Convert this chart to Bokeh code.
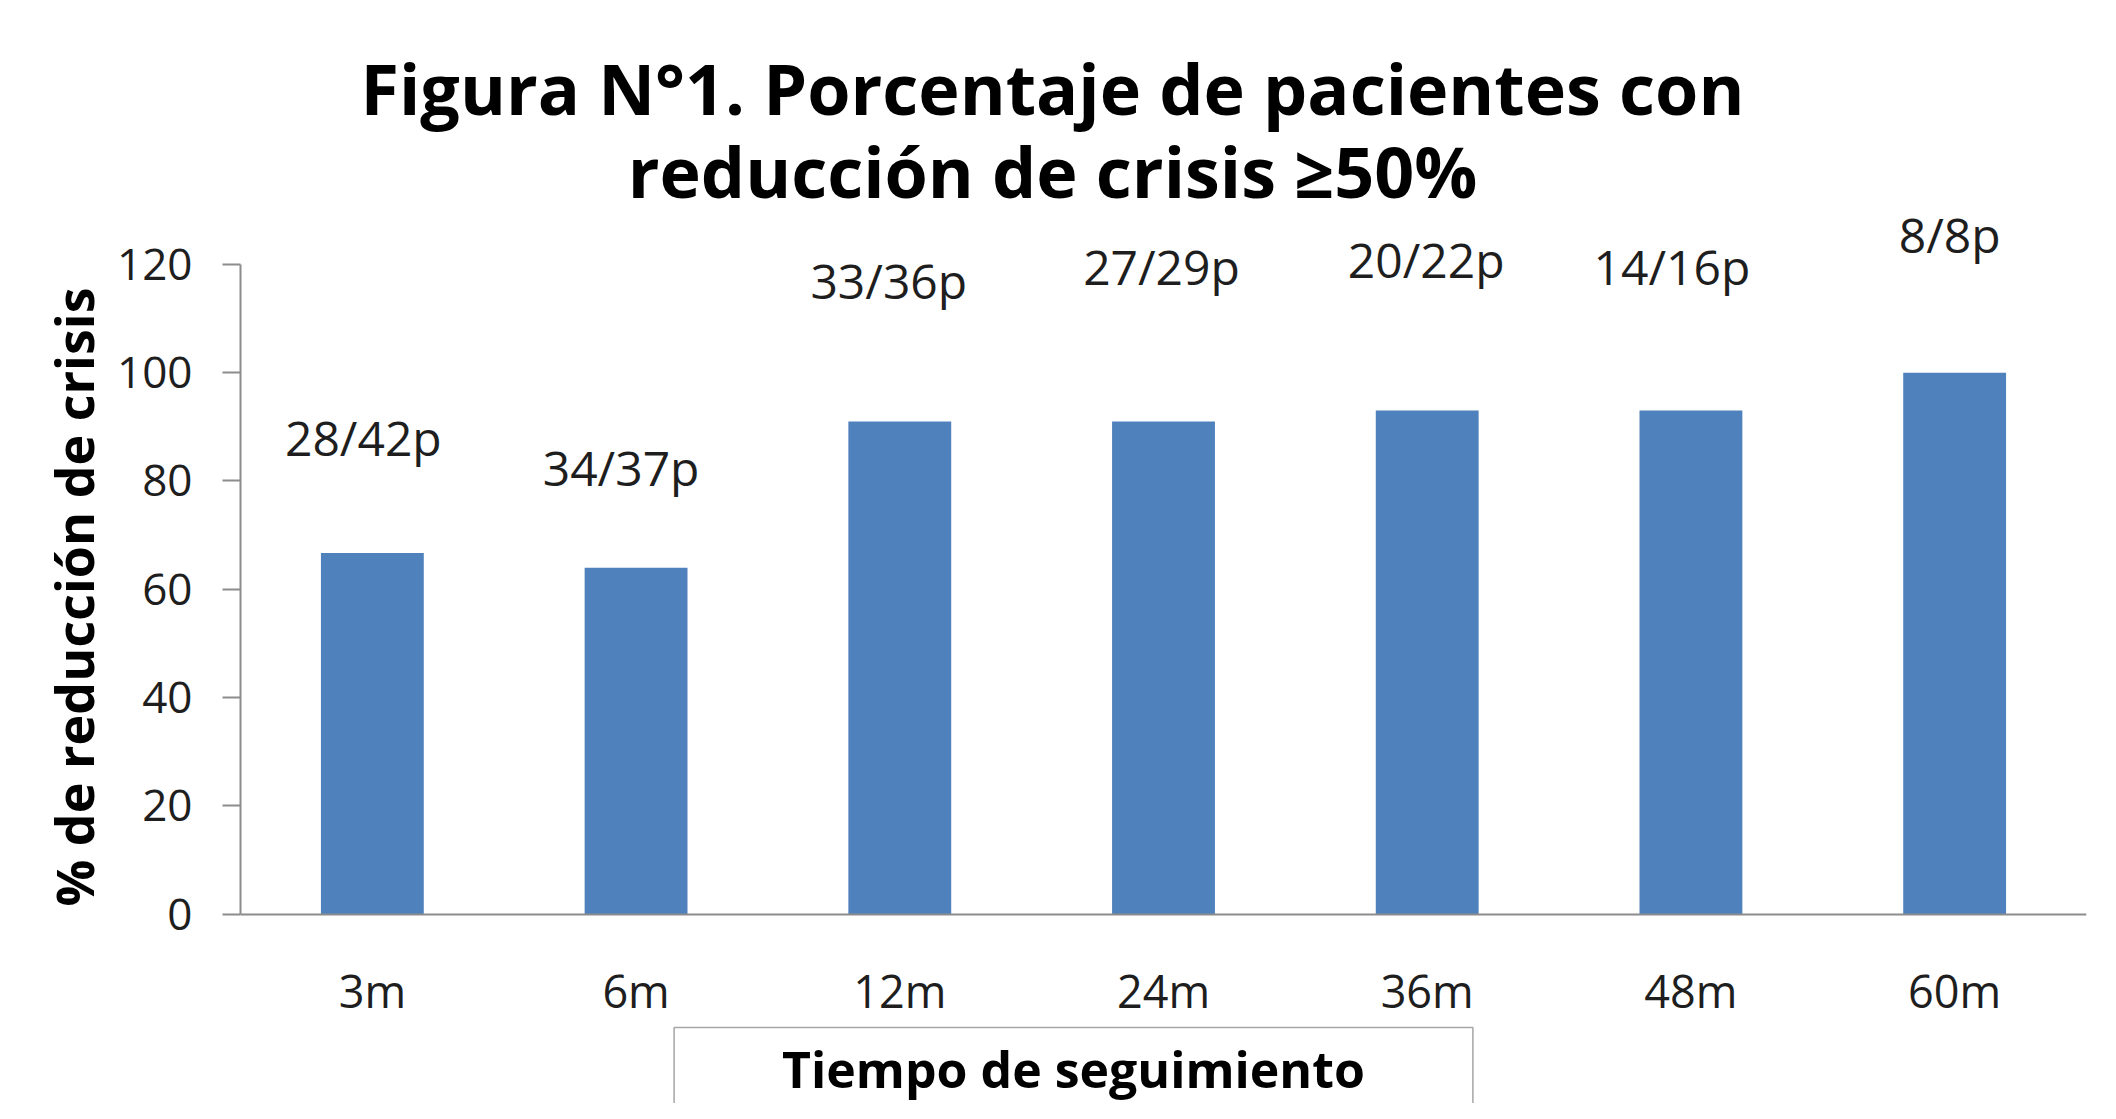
from bokeh.plotting import figure
from bokeh.models import FactorRange, Range1d, FixedTicker, LabelSet, Label, Title, ColumnDataSource
from bokeh.core.properties import value
from bokeh.embed import file_html
from bokeh.resources import INLINE

# ---- data ----
categories = ["3m", "6m", "12m", "24m", "36m", "48m", "60m"]
percent = [66.7, 64.0, 91.0, 91.0, 93.0, 93.0, 100.0]
patient_labels = ["28/42p", "34/37p", "33/36p", "27/29p", "20/22p", "14/16p", "8/8p"]
label_heights = [88.0, 82.5, 117.0, 119.6, 120.9, 119.6, 125.5]
label_shift_px = [-9, -15, -11, -2, -1, -19, -5]
y_ticks = [0, 20, 40, 60, 80, 100, 120]

title_line1 = "Figura N°1. Porcentaje de pacientes con"
title_line2 = "reducción de crisis ≥50%"
y_title = "% de reducción de crisis"
x_title = "Tiempo de seguimiento"

FONT = "Open Sans"
BAR = "#4F81BD"
AXIS = "#8C8C8C"
TXT = "#1E1E1E"

src = ColumnDataSource(dict(cat=categories, val=percent, txt=patient_labels,
                            ly=label_heights, dx=label_shift_px))

# frame spans the full canvas height (0..120 occupies 650 px); axes drawn at fixed spots
p = figure(x_range=FactorRange(*categories, range_padding=0),
           y_range=Range1d(-34.93, 168.7),
           width=2100, height=1103,
           output_backend="svg", toolbar_location=None,
           min_border_left=240, min_border_right=14,
           min_border_top=0, min_border_bottom=0)
p.outline_line_color = None
p.xgrid.visible = False
p.ygrid.visible = False
p.background_fill_color = "white"
p.border_fill_color = "white"

p.vbar(x="cat", top="val", width=0.39, source=src, fill_color=BAR, line_color=None)

# y axis
ya = p.yaxis[0]
ya.ticker = FixedTicker(ticks=y_ticks)
ya.bounds = (0, 120)
ya.axis_line_color = AXIS
ya.axis_line_width = 2
ya.major_tick_line_color = AXIS
ya.major_tick_line_width = 2
ya.major_tick_out = 18
ya.major_tick_in = 0
ya.minor_tick_out = 0
ya.minor_tick_in = 0
ya.major_label_standoff = 30
ya.major_label_text_font = FONT
ya.major_label_text_font_size = "44px"
ya.major_label_text_color = TXT

# y axis title (placed along the 0..120 part of the axis)
p.add_layout(Title(text=y_title, align="left", offset=197, standoff=12,
                   text_font=FONT, text_font_style="bold", text_font_size="52px",
                   text_color="black"), "left")

# x axis, drawn at y = 0
xa = p.xaxis[0]
xa.fixed_location = 0
xa.axis_line_color = AXIS
xa.axis_line_width = 2
xa.major_tick_out = 0
xa.major_tick_in = 0
xa.minor_tick_out = 0
xa.major_label_standoff = 46
xa.major_label_text_font = FONT
xa.major_label_text_font_size = "45px"
xa.major_label_text_color = TXT

# x axis title in a box (box runs past the bottom edge, as in the original)
p.add_layout(Label(x=833, y=76, x_units="screen", y_units="screen", text=x_title,
                   text_align="center", text_baseline="top",
                   text_font=FONT, text_font_style="bold", text_font_size="50px",
                   text_color="black",
                   border_line_color="#A6A6A6", border_line_width=1.5,
                   padding=dict(left=108, right=108, top=7, bottom=80)))

# patient count labels
p.add_layout(LabelSet(x="cat", y="ly", text="txt", x_offset="dx", source=src,
                      text_align="center", text_baseline="middle",
                      text_font=value(FONT), text_font_size=value("48px"),
                      text_color=TXT))

# title (two lines)
p.add_layout(Label(x=812, y=1016, x_units="screen", y_units="screen", text=title_line1,
                   text_align="center", text_baseline="alphabetic",
                   text_font=FONT, text_font_style="bold", text_font_size="70px",
                   text_color="black"))
p.add_layout(Label(x=812, y=933, x_units="screen", y_units="screen", text=title_line2,
                   text_align="center", text_baseline="alphabetic",
                   text_font=FONT, text_font_style="bold", text_font_size="70px",
                   text_color="black"))

open("out.html", "w").write(file_html(p, INLINE))
